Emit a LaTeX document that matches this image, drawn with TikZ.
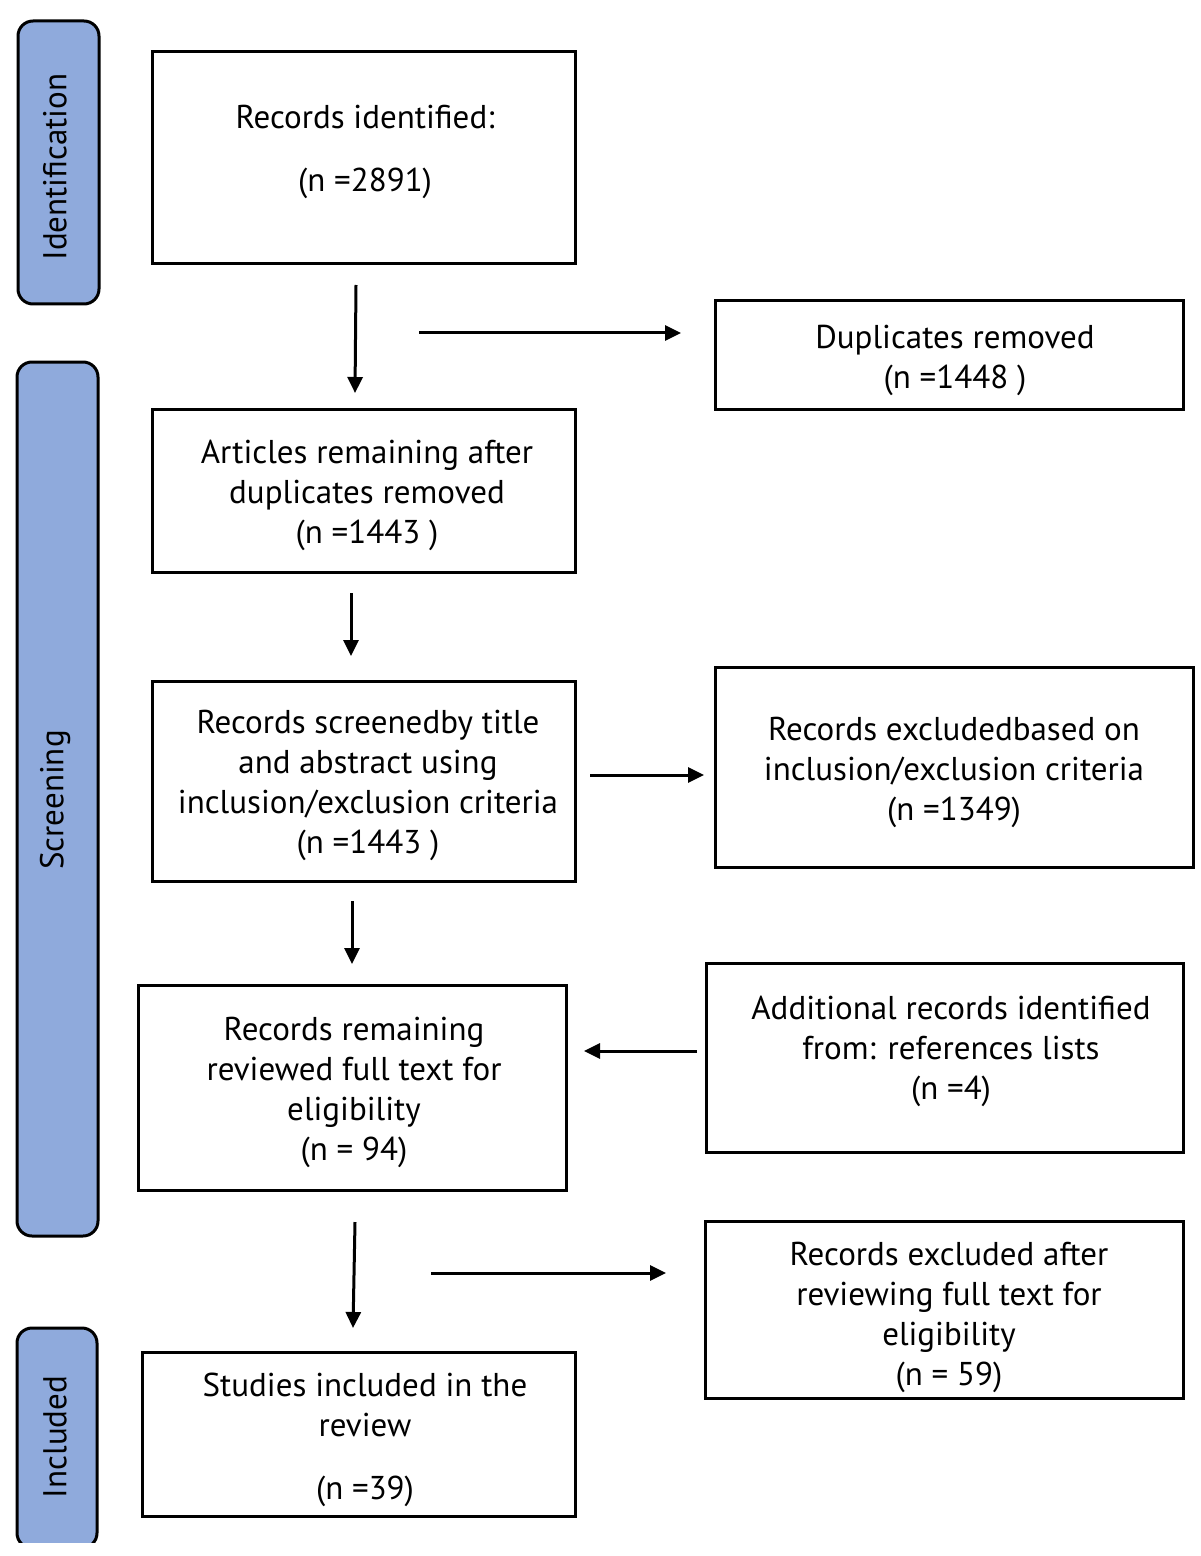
\documentclass[tikz,border=0pt]{standalone}
\usepackage{fontspec}
\setmainfont{PT Sans}
\usetikzlibrary{arrows.meta}
\definecolor{barblue}{HTML}{8FAADC}
\begin{document}
\begin{tikzpicture}[x=0.5pt,y=-0.5pt,
  box/.style={draw, line width=1.5pt, inner sep=0pt, fill=white},
  txt/.style={align=center, font=\fontsize{16.5pt}{20pt}\selectfont, inner sep=0pt},
  bar/.style={draw, line width=1.5pt, fill=barblue, rounded corners=7.5pt, inner sep=0pt},
  bartxt/.style={rotate=90, font=\fontsize{16.5pt}{20pt}\selectfont, inner sep=0pt},
  arr/.style={line width=1.5pt, -{Triangle[length=8pt,width=7.5pt]}}]
\useasboundingbox (0,0) rectangle (1200,1556);
% side bars
\node[bar, minimum width=40.5pt, minimum height=141.5pt] (s1) at (58.5,162.5) {};
\node[bartxt] (l1) at (55,167) {Identification};
\node[bar, minimum width=40.5pt, minimum height=437pt] (s2) at (57.5,799) {};
\node[bartxt] (l2) at (55,800) {Screening};
\begin{scope}
\clip (0,1300) rectangle (200,1542);
\node[bar, minimum width=40pt, minimum height=110pt] (s3) at (57,1438) {};
\end{scope}
\node[bartxt] (l3) at (55,1437) {Included};
% boxes
\node[box, minimum width=211.5pt, minimum height=106pt] (b1) at (363.5,158) {};
\node[box, minimum width=234pt, minimum height=54pt] (b2) at (949,355) {};
\node[box, minimum width=211.5pt, minimum height=81.5pt] (b3) at (363.5,490.5) {};
\node[box, minimum width=211.5pt, minimum height=100pt] (b4) at (363.5,781) {};
\node[box, minimum width=239pt, minimum height=100pt] (b5) at (954,767) {};
\node[box, minimum width=214pt, minimum height=102.5pt] (b6) at (352,1087.5) {};
\node[box, minimum width=238.5pt, minimum height=94.5pt] (b7) at (944.5,1057.5) {};
\node[box, minimum width=239pt, minimum height=88.5pt] (b8) at (944,1309.5) {};
\node[box, minimum width=216.5pt, minimum height=82pt] (b9) at (358.5,1434) {};
% texts
\node[txt] (t1) at (365,152) {Records identified:\\[11.5pt](n =2891)};
\node[txt] (t2) at (955,360) {Duplicates removed\\(n =1448 )};
\node[txt] (t3) at (367,495) {Articles remaining after\\duplicates removed\\(n =1443 )};
\node[txt] (t4) at (368,785) {Records screenedby title\\and abstract using\\inclusion/exclusion criteria\\(n =1443 )};
\node[txt] (t5) at (954,772) {Records excludedbased on\\inclusion/exclusion criteria\\(n =1349)};
\node[txt] (t6) at (354,1092) {Records remaining\\reviewed full text for\\eligibility\\(n = 94)};
\node[txt] (t7) at (951,1051) {Additional records identified\\from: references lists\\(n =4)};
\node[txt] (t8) at (949,1317) {Records excluded after\\reviewing full text for\\eligibility\\(n = 59)};
\node[txt] (t9) at (365,1440) {Studies included in the\\review\\[11.5pt](n =39)};
% arrows
\coordinate (a1s) at (356,285); \coordinate (a1e) at (355,393);
\coordinate (a2s) at (419,333); \coordinate (a2e) at (681,333);
\coordinate (a3s) at (351,593); \coordinate (a3e) at (351,656);
\coordinate (a4s) at (590,775); \coordinate (a4e) at (704,775);
\coordinate (a5s) at (352,901); \coordinate (a5e) at (352,964);
\coordinate (a6s) at (697,1051); \coordinate (a6e) at (584,1051);
\coordinate (a7s) at (355,1222); \coordinate (a7e) at (353,1328);
\coordinate (a8s) at (431,1273); \coordinate (a8e) at (666,1273);
\draw[arr] (a1s) -- (a1e);
\draw[arr] (a2s) -- (a2e);
\draw[arr] (a3s) -- (a3e);
\draw[arr] (a4s) -- (a4e);
\draw[arr] (a5s) -- (a5e);
\draw[arr] (a6s) -- (a6e);
\draw[arr] (a7s) -- (a7e);
\draw[arr] (a8s) -- (a8e);
\end{tikzpicture}
\end{document}
